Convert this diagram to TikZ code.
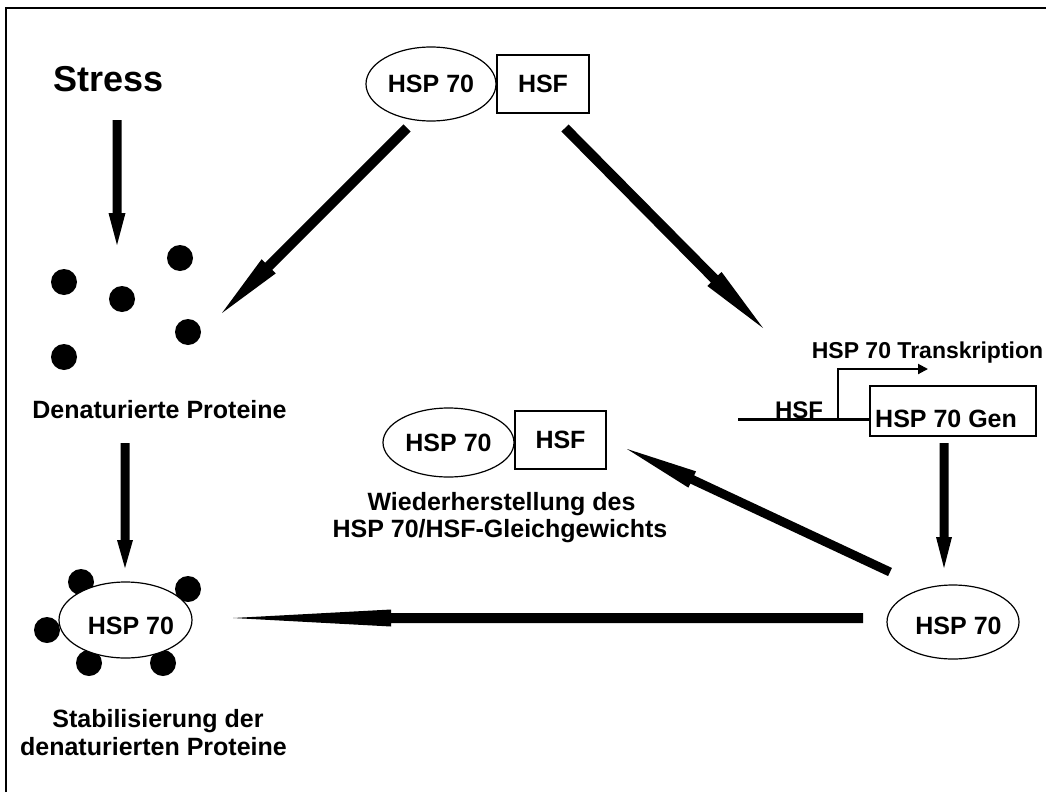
\documentclass[tikz,border=0pt]{standalone}
\usepackage{fontspec}
\setmainfont{Liberation Sans}
\usetikzlibrary{arrows.meta,shapes.geometric,calc}
% from, to, half shaft width, head length, half head width
\newcommand\myfatarrow[5]{%
  \coordinate (hb) at ($(#2)!#4!(#1)$);
  \fill ($(#1)!#3!90:(#2)$) -- ($(hb)!#3!-90:(#1)$) -- ($(hb)!#5!-90:(#1)$) -- (#2)
     -- ($(hb)!#5!90:(#1)$) -- ($(hb)!#3!90:(#1)$) -- ($(#1)!#3!-90:(#2)$) -- cycle;}
\begin{document}
\begin{tikzpicture}[x=1pt,y=-1pt,
  lbl/.style={font=\bfseries\fontsize{25}{28}\selectfont, inner sep=0pt, anchor=base},
  ell/.style={draw, ellipse, line width=1.2pt, inner sep=0pt, fill=white, font=\bfseries\fontsize{25}{28}\selectfont},
  box/.style={draw, rectangle, line width=1.2pt, inner sep=0pt, fill=white, font=\bfseries\fontsize{25}{28}\selectfont},
  dot/.style={fill=black, circle, inner sep=0pt, minimum size=26pt},
]
\useasboundingbox (0,0) rectangle (1046,792);
\draw[line width=2pt] (6,792) -- (6,8) -- (1046,8);

% top complex
\node[ell, minimum width=130pt, minimum height=74pt] (e1) at (431,84) {HSP 70};
\node[box, minimum width=92pt, minimum height=58pt] (b1) at (543,84) {HSF};

% Stress
\node[lbl, font=\bfseries\fontsize{36}{40}\selectfont] (stress) at (108.5,92) {Stress};

% denatured proteins
\node[dot] (d1) at (180,258) {};
\node[dot] (d2) at (64,282) {};
\node[dot] (d3) at (122,299) {};
\node[dot] (d4) at (188,332) {};
\node[dot] (d5) at (64,357) {};
\node[lbl] (den) at (159.5,418) {Denaturierte Proteine};

% stabilised complex
\node[dot] (s1) at (81,582) {};
\node[dot] (s2) at (188,589) {};
\node[dot] (s3) at (47,630) {};
\node[dot] (s4) at (89,663) {};
\node[dot] (s5) at (163,663) {};
\node[ell, minimum width=133pt, minimum height=76pt] (e3) at (125.5,620) {};
\node[lbl] (e3t) at (131,634) {HSP 70};
\node[lbl] (stab1) at (158,727) {Stabilisierung der};
\node[lbl] (stab2) at (153.5,755) {denaturierten Proteine};

% middle complex
\node[ell, minimum width=131pt, minimum height=69pt] (e2) at (448.5,442.5) {HSP 70};
\node[box, minimum width=91pt, minimum height=58pt] (b2) at (560.5,440) {HSF};
\node[lbl] (w1) at (501.5,510) {Wiederherstellung des};
\node[lbl] (w2) at (500,537) {HSP 70/HSF-Gleichgewichts};

% gene
\node[box, minimum width=166pt, minimum height=50pt] (gen) at (953,411) {};
\node[lbl, anchor=base west] (gent) at (875,427) {HSP 70 Gen};
\coordinate (l0) at (738,419);
\coordinate (l1) at (870,419);
\draw[line width=3pt] (l0) -- (l1);
\node[lbl, font=\bfseries\fontsize{24}{28}\selectfont] (hsf) at (799,418) {HSF};
\coordinate (t0) at (838,419);
\coordinate (t1) at (928,369);
\draw[line width=2pt, -{Triangle[length=10pt,width=10pt]}] (t0) |- (t1);
\node[lbl, font=\bfseries\fontsize{23}{28}\selectfont] (trans) at (927.5,358) {HSP 70 Transkription};

% new HSP 70
\node[ell, minimum width=132pt, minimum height=74pt] (e4) at (953,622) {};
\node[lbl] (e4t) at (958.5,634) {HSP 70};

% arrows
\coordinate (a1s) at (117,120);  \coordinate (a1e) at (117,245);
\coordinate (a2s) at (407,128);  \coordinate (a2e) at (222,313);
\coordinate (a3s) at (565,128);  \coordinate (a3e) at (763,328);
\coordinate (a4s) at (125,443);  \coordinate (a4e) at (125,568);
\coordinate (a5s) at (944,443);  \coordinate (a5e) at (944,568);
\coordinate (a6s) at (890,572);  \coordinate (a6e) at (627,449);
\coordinate (a7s) at (863,618);  \coordinate (a7e) at (233,618);
\myfatarrow{a1s}{a1e}{4.5pt}{32pt}{8.5pt}
\myfatarrow{a2s}{a2e}{5pt}{66pt}{10pt}
\myfatarrow{a3s}{a3e}{5pt}{69pt}{10pt}
\myfatarrow{a4s}{a4e}{4.5pt}{28pt}{8pt}
\myfatarrow{a5s}{a5e}{4.5pt}{31pt}{8pt}
\myfatarrow{a6s}{a6e}{4.5pt}{72pt}{9pt}
\myfatarrow{a7s}{a7e}{5pt}{158pt}{8.5pt}
\end{tikzpicture}
\end{document}
